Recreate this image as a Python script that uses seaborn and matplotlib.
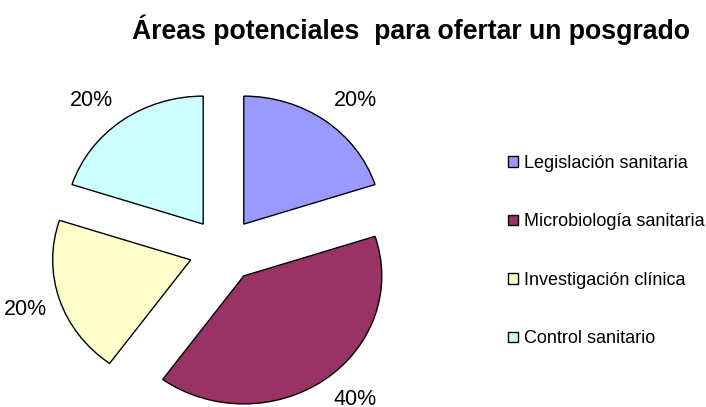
import matplotlib
matplotlib.use('Agg')
import matplotlib.pyplot as plt
import seaborn as sns
import numpy as np

# datos del gráfico
areas = ['Legislación sanitaria', 'Microbiología sanitaria',
         'Investigación clínica', 'Control sanitario']
porcentajes = [20, 40, 20, 20]
colores = ['#9999FF', '#993366', '#FFFFCC', '#CCFFFF']
separacion = [0.25, 0.25, 0.25, 0.25]

sns.set_theme(style='white')
plt.rcParams['font.family'] = ['Liberation Sans', 'DejaVu Sans']
plt.rcParams['text.color'] = 'black'

fig = plt.figure(figsize=(7.06, 4.07), dpi=100)
# el pastel original está un poco estirado en horizontal
ax = fig.add_axes([16.5 / 706, -35 / 407, 414 / 706, 384 / 407])

wedges, textos, pcts = ax.pie(
    porcentajes, colors=colores, explode=separacion,
    startangle=90, counterclock=False,
    autopct='%1.0f%%', pctdistance=1.26,
    wedgeprops=dict(edgecolor='black', linewidth=1.0),
    textprops=dict(fontsize=15.5, color='black'))
ax.set_aspect('auto')
ax.set_xlim(-1.5, 1.5)
ax.set_ylim(-1.5, 1.5)

# acercar un poco las etiquetas al eje horizontal, como en Excel
for w, t, e in zip(wedges, pcts, separacion):
    medio = (w.theta1 + w.theta2) / 2
    ang = np.deg2rad(medio)
    if abs(np.sin(ang)) < 0.5:
        continue
    cuadrante = np.sign(np.cos(ang)) * np.sign(np.sin(ang))
    nuevo = np.deg2rad(medio - 4 * cuadrante)
    t.set_position((e * np.cos(ang) + 1.26 * np.cos(nuevo),
                    e * np.sin(ang) + 1.26 * np.sin(nuevo)))

fig.text(411 / 706, 1 - 29.5 / 407, 'Áreas potenciales  para ofertar un posgrado',
         ha='center', va='center', fontsize=19.2, fontweight='bold')

fig.legend(wedges, areas, loc='center left', bbox_to_anchor=(508 / 706, 0.383),
           frameon=False, fontsize=13, labelspacing=2.3,
           borderpad=0, borderaxespad=0,
           handlelength=0.55, handleheight=0.55, handletextpad=0.35)

fig.savefig('out.png', dpi=100)
